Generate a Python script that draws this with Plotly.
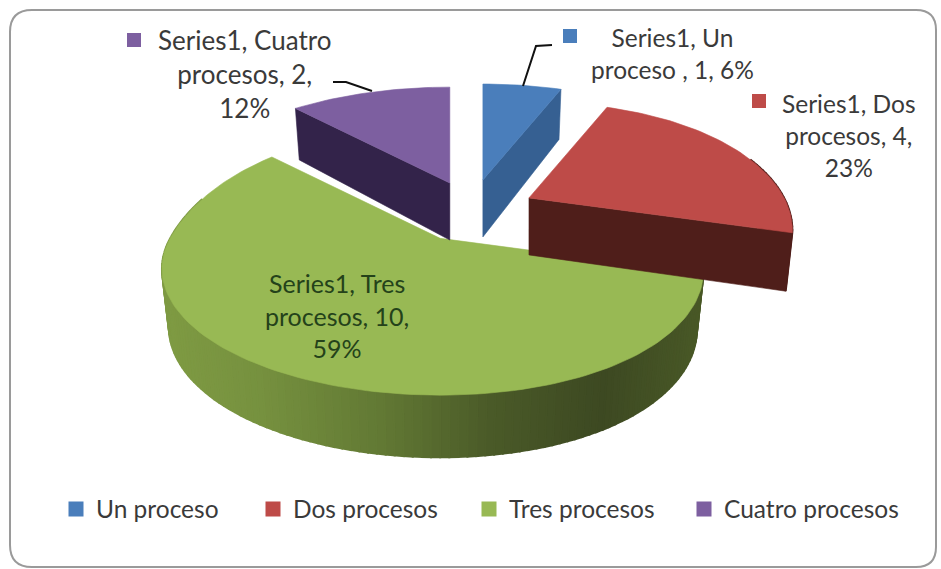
import math
import plotly.graph_objects as go

categories = ["Un proceso", "Dos procesos", "Tres procesos", "Cuatro procesos"]
values = [1, 4, 10, 2]
series_name = "Series1"
label_texts = [
    "Series1, Un<br>proceso , 1, 6%",
    "Series1, Dos<br>procesos, 4,<br>23%",
    "Series1, Tres<br>procesos, 10,<br>59%",
    "Series1, Cuatro<br>procesos, 2,<br>12%",
]
top_colors = ["#4a7ebb", "#be4b48", "#98b954", "#7d5fa0"]
cut_colors = ["#366092", "#4f1e1a", "#3f4f20", "#33234a"]
wall_stops = [
    ["#366092", "#366092"],
    ["#5a2320", "#4f1e1a"],
    [(0, "#7f9b43"), (0.18, "#76913f"), (0.4, "#627934"), (0.6, "#4a5a28"), (0.8, "#3d4922"), (1, "#4a5a27")],
    ["#33234a", "#33234a"],
]

# projection of the pie plane
CX, CY = 470, 208
RX, RY, K = 270, 119, 0.241
RIGHT_SQUEEZE = 0.055
DEPTH, DEPTH_BACK, DEPTH_FRONT, BOTTOM_SHRINK = 57, 0.13, 0.09, 0.975
pull_x = [0.26, 0.244, 0.21, 0.207]
pull_y = [0.24, 0.19, 0.30, 0.225]
back_scale = [1.0, 1.0, 1.09, 1.0]
cut_faces = [["end"], ["end"], [], ["start"]]
draw_order = [2, 3, 0, 1]
FONT = "Lato"
TEXT = "#3a3a3a"
label_sizes = [24.5, 24.5, 25, 26]


def rim(theta, bs=1.0):
    """Offset from a slice's apex of the rim point at clockwise angle theta."""
    u, v = math.sin(theta), -math.cos(theta)
    s = 1 / (1 - K * v)
    x = RX * u * s * (1 - RIGHT_SQUEEZE * max(u, 0))
    y = RY * v * s
    f = 1 + (bs - 1) * (min(v, 0) / 0.74) ** 2
    return x * f, y * f, v


def hex_rgb(c):
    return tuple(int(c[i:i + 2], 16) for i in (1, 3, 5))


def gradient(stops, t):
    if not isinstance(stops[0], tuple):
        stops = [(0, stops[0]), (1, stops[1])]
    for (a, ca), (b, cb) in zip(stops, stops[1:]):
        if t <= b:
            f = (t - a) / (b - a) if b > a else 0
            x, y = hex_rgb(ca), hex_rgb(cb)
            return "rgb(%d,%d,%d)" % tuple(round(p + (q - p) * f) for p, q in zip(x, y))
    return stops[-1][1]


def poly(xs, ys, color, width=0.6):
    return go.Scatter(x=xs, y=ys, mode="lines", fill="toself", fillcolor=color,
                      line=dict(color=color, width=width), hoverinfo="skip",
                      showlegend=False)


fig = go.Figure()
total = sum(values)
starts, acc = [], 0
for val in values:
    starts.append(acc / total * 2 * math.pi)
    acc += val

for i in draw_order:
    a0 = starts[i]
    a1 = a0 + values[i] / total * 2 * math.pi
    mid = (a0 + a1) / 2
    ax = CX + pull_x[i] * RX * math.sin(mid)
    ay = CY - pull_y[i] * RY * math.cos(mid)
    n = max(4, int(values[i] * 14))
    thetas = [a0 + (a1 - a0) * j / n for j in range(n + 1)]
    bs = back_scale[i]

    def top(t):
        dx, dy, _ = rim(t, bs)
        return ax + dx, ay + dy

    def bottom(t):
        dx, dy, v = rim(t, bs)
        d = DEPTH * (1 + (DEPTH_BACK if v < 0 else DEPTH_FRONT) * v)
        return ax + dx * BOTTOM_SHRINK, ay + dy + d

    # outer wall, built as a strip so the shading can follow the curve
    for t0, t1 in zip(thetas, thetas[1:]):
        if math.cos((t0 + t1) / 2) > 0.35:
            continue
        p = [top(t0), top(t1), bottom(t1), bottom(t0)]
        frac = (sum(q[0] for q in p) / 4 - 160) / (710 - 160)
        c = gradient(wall_stops[i], min(max(frac, 0), 1))
        fig.add_trace(poly([q[0] for q in p] + [p[0][0]], [q[1] for q in p] + [p[0][1]], c, width=2))

    # visible cut faces
    for face in cut_faces[i]:
        t = a1 if face == "end" else a0
        tp, bt = top(t), bottom(t)
        apex_b = (ax, ay + DEPTH)
        xs = [ax, tp[0], bt[0], apex_b[0], ax]
        ys = [ay, tp[1], bt[1], apex_b[1], ay]
        fig.add_trace(poly(xs, ys, cut_colors[i]))

    # top face
    pts = [top(t) for t in thetas]
    xs = [ax] + [q[0] for q in pts] + [ax]
    ys = [ay] + [q[1] for q in pts] + [ay]
    fig.add_trace(poly(xs, ys, top_colors[i]))

# legend: one real legend per category so spacing follows the reference
legend_x = [56, 253, 469, 684]
layout_legends = {}
for i, name in enumerate(categories):
    key = "legend" if i == 0 else f"legend{i + 1}"
    fig.add_trace(go.Scatter(x=[None], y=[None], mode="markers", name=name,
                             marker=dict(symbol="square", size=15, color=top_colors[i]),
                             legend=key, showlegend=True, hoverinfo="skip"))
    layout_legends[key] = dict(x=legend_x[i] / 941, y=1 - 509 / 569, xanchor="left", yanchor="middle",
                               bgcolor="rgba(0,0,0,0)", itemwidth=30,
                               font=dict(family=FONT, size=24.5, color=TEXT))

shapes = [
    dict(type="path", layer="below",
         path="M 32 10 L 916 10 Q 936 10 936 30 L 936 547 Q 936 567 916 567 "
              "L 32 567 Q 10 567 10 545 L 10 32 Q 10 10 32 10 Z",
         line=dict(color="#9a9a9a", width=2), fillcolor="white"),
]
# data-label colour keys
for (x, y), c in zip([(570, 36), (759, 101), (134, 40)], [top_colors[0], top_colors[1], top_colors[3]]):
    shapes.append(dict(type="rect", x0=x - 7, x1=x + 7, y0=y - 7, y1=y + 7, fillcolor=c, line=dict(width=0)))
# leader lines
shapes.append(dict(type="path", path="M 552 45 L 536 46 L 523 86", line=dict(color="#111111", width=2)))
shapes.append(dict(type="path", path="M 333 82 L 346 82 L 372 91", line=dict(color="#111111", width=2)))

label_pos = [(672, 53), (849, 135), (337, 315), (245, 74)]
annotations = [
    dict(x=x, y=y, text=t, showarrow=False, xanchor="center", yanchor="middle", align="center",
         font=dict(family=FONT, size=label_sizes[i], color="#24421a" if i == 2 else TEXT))
    for i, ((x, y), t) in enumerate(zip(label_pos, label_texts))
]

fig.update_layout(
    width=941, height=569, margin=dict(l=0, r=0, t=0, b=0),
    paper_bgcolor="white", plot_bgcolor="rgba(0,0,0,0)",
    xaxis=dict(range=[0, 941], visible=False, fixedrange=True),
    yaxis=dict(range=[569, 0], visible=False, fixedrange=True),
    shapes=shapes, annotations=annotations,
    **layout_legends,
)
fig.write_html("out.html", post_script="document.body.style.margin='0';", config={"displayModeBar": False})
